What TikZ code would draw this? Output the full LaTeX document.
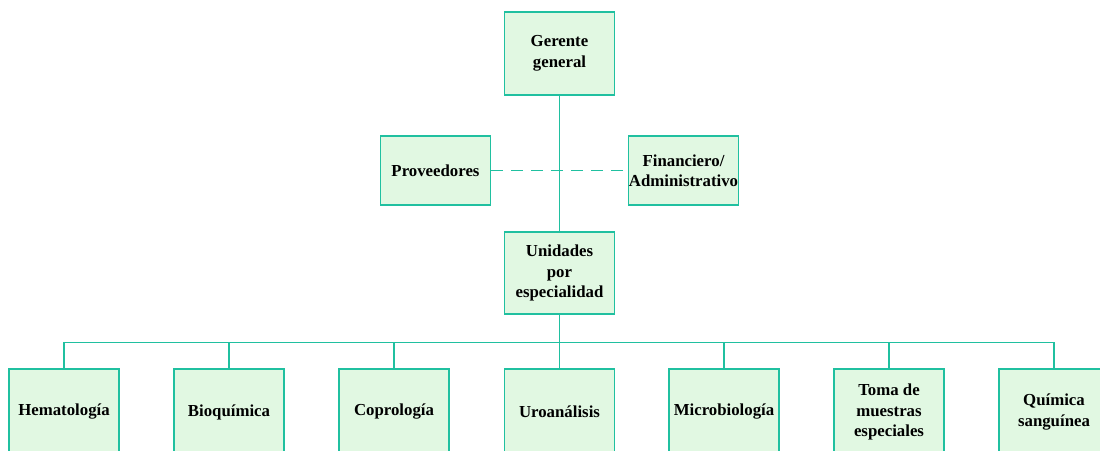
\documentclass[tikz,border=0pt]{standalone}
\usepackage{fontspec}
\setmainfont{Liberation Serif}
\definecolor{edge}{RGB}{32,192,160}
\definecolor{boxfill}{RGB}{225,248,226}
\begin{document}
\begin{tikzpicture}[x=1pt,y=-1pt,
  unit/.style={draw=edge,fill=boxfill,line width=1.4pt,rectangle,minimum width=110pt,align=center,
    font=\fontsize{16.8}{20.5}\selectfont\bfseries,inner sep=0pt},
  conn/.style={draw=edge,line width=1.4pt}]
\useasboundingbox (0,0) rectangle (1100,450);
\node[unit,minimum height=83pt] (gerente) at (559.5,53.5) {Gerente\\general};
\node[unit,minimum height=69pt] (prov) at (435.5,170.5) {Proveedores};
\node[unit,minimum height=69pt] (fin) at (683.5,170.5) {Financiero/\\Administrativo};
\node[unit,minimum height=82pt] (unid) at (559.5,273) {Unidades\\por\\especialidad};
\node[unit,minimum height=86pt] (b1) at (64,412) {Hematología};
\node[unit,minimum height=86pt] (b2) at (229,412) {Bioquímica};
\node[unit,minimum height=86pt] (b3) at (394,412) {Coprología};
\node[unit,minimum height=86pt] (b4) at (559.5,412) {Uroanálisis};
\node[unit,minimum height=86pt] (b5) at (724,412) {Microbiología};
\node[unit,minimum height=86pt] (b6) at (889,412) {Toma de\\muestras\\especiales};
\node[unit,minimum height=86pt] (b7) at (1054,412) {Química\\sanguínea};
\draw[conn] (gerente.south) -- (unid.north);
\draw[conn,dash pattern=on 12pt off 8pt] (prov.east) -- (fin.west);
\foreach \b in {b1,b2,b3,b4,b5,b6,b7}{
  \draw[conn] (unid.south) -- ++(0,28) -| (\b.north);
}
\end{tikzpicture}
\end{document}
